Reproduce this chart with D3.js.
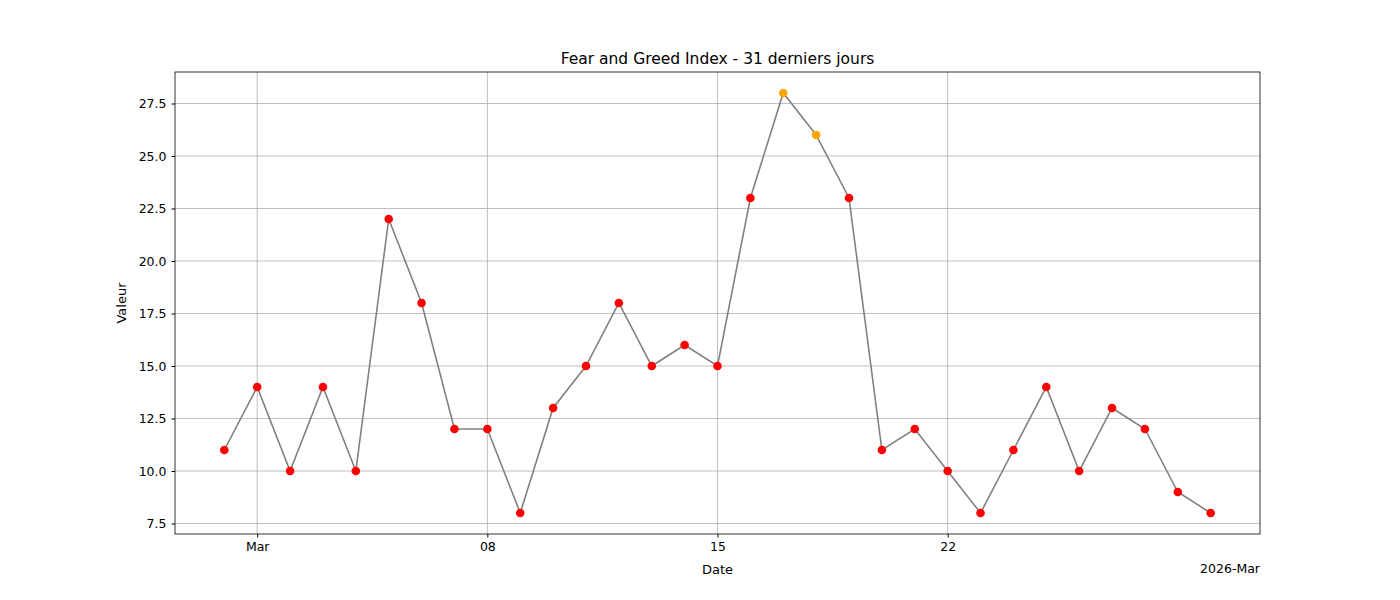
<!DOCTYPE html>
<html><head><meta charset="utf-8">
<script src="https://cdn.jsdelivr.net/npm/d3@7"></script>
<style>body{margin:0;background:#fff}text{font-family:"DejaVu Sans",sans-serif}</style>
</head><body><svg id="c" width="1400" height="600"></svg>
<script>
const startDate = new Date(2026, 1, 28);
const values = [11,14,10,14,10,22,18,12,12,8,13,15,18,15,16,15,23,28,26,23,11,12,10,8,11,14,10,13,12,9,8];
const tickDates = [new Date(2026,2,1), new Date(2026,2,8), new Date(2026,2,15), new Date(2026,2,22)];
const tickLabels = ['Mar','08','15','22'];
const yTicks = [7.5,10,12.5,15,17.5,20,22.5,25,27.5];

const data = values.map((v,i) => ({d: d3.timeDay.offset(startDate, i), v}));
const svg = d3.select('#c');
const L = 175, R = 1260, T = 72, B = 534;
const day = 864e5;
const x = d3.scaleTime()
  .domain([new Date(+data[0].d - 1.5*day), new Date(+data[data.length-1].d + 1.5*day)])
  .range([L, R]);
const y = d3.scaleLinear().domain([7, 29]).range([B, T]);

const g = svg.append('g');
// grid
tickDates.forEach(t => g.append('line').attr('x1', x(t)).attr('x2', x(t)).attr('y1', T).attr('y2', B)
  .attr('stroke', '#b0b0b0').attr('stroke-width', 0.8));
yTicks.forEach(t => g.append('line').attr('x1', L).attr('x2', R).attr('y1', y(t)).attr('y2', y(t))
  .attr('stroke', '#b0b0b0').attr('stroke-width', 0.8));

const xa = svg.append('g').attr('transform', `translate(0,${B})`)
  .call(d3.axisBottom(x).tickValues(tickDates).tickFormat((d,i) => tickLabels[i]).tickSize(3.5).tickPadding(5));
const ya = svg.append('g').attr('transform', `translate(${L},0)`)
  .call(d3.axisLeft(y).tickValues(yTicks).tickFormat(d3.format('.1f')).tickSize(3.5).tickPadding(5));
[xa, ya].forEach(a => { a.select('.domain').remove(); a.selectAll('text').attr('font-size', 12.5).attr('fill', '#000').style('font-family', 'DejaVu Sans'); a.selectAll('line').attr('stroke', '#000'); });

svg.append('path').datum(data)
  .attr('d', d3.line().x(d => x(d.d)).y(d => y(d.v)))
  .attr('fill', 'none').attr('stroke', 'gray').attr('stroke-width', 1.6);
svg.selectAll('circle.p').data(data).join('circle')
  .attr('cx', d => x(d.d)).attr('cy', d => y(d.v)).attr('r', 4.3)
  .attr('fill', d => d.v < 25 ? 'red' : 'orange');

svg.append('rect').attr('x', L).attr('y', T).attr('width', R-L).attr('height', B-T)
  .attr('fill', 'none').attr('stroke', '#000').attr('stroke-width', 0.8);

svg.append('text').attr('x', (L+R)/2).attr('y', 64).attr('text-anchor', 'middle').attr('font-size', 15.5).text('Fear and Greed Index - 31 derniers jours');
svg.append('text').attr('x', (L+R)/2).attr('y', 574).attr('text-anchor', 'middle').attr('font-size', 13).text('Date');
svg.append('text').attr('x', R).attr('y', 573).attr('text-anchor', 'end').attr('font-size', 12.5).text('2026-Mar');
svg.append('text').attr('transform', `translate(126,${(T+B)/2}) rotate(-90)`).attr('text-anchor', 'middle').attr('font-size', 13).text('Valeur');
</script></body></html>
